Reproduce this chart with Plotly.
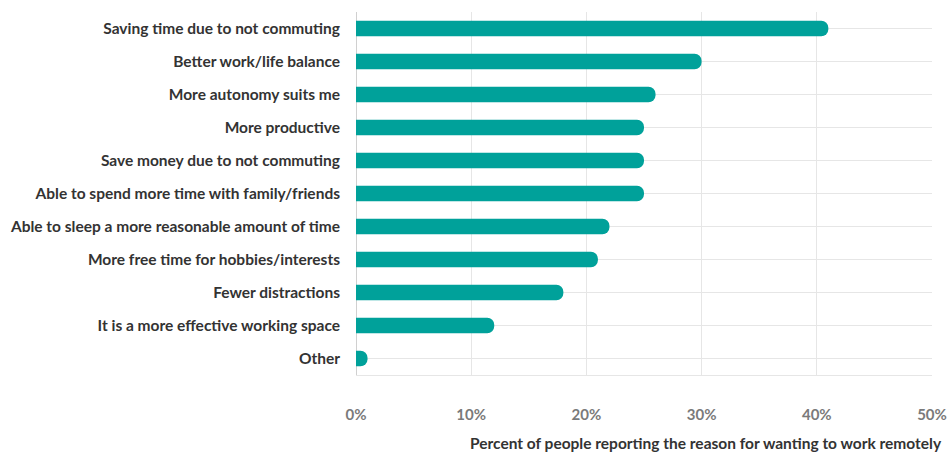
import plotly.graph_objects as go

categories = [
    "Saving time due to not commuting",
    "Better work/life balance",
    "More autonomy suits me",
    "More productive",
    "Save money due to not commuting",
    "Able to spend more time with family/friends",
    "Able to sleep a more reasonable amount of time",
    "More free time for hobbies/interests",
    "Fewer distractions",
    "It is a more effective working space",
    "Other",
]
values = [41, 30, 26, 25, 25, 25, 22, 21, 18, 12, 1]
tick_vals = [0, 10, 20, 30, 40, 50]
tick_text = ["0%", "10%", "20%", "30%", "40%", "50%"]
x_title = "Percent of people reporting the reason for wanting to work remotely"

fig = go.Figure(go.Bar(
    x=values, y=categories, orientation="h",
    marker=dict(color="#00A19A", line=dict(width=0), cornerradius=8),
    width=0.47, hoverinfo="x+y",
))

fig.update_layout(
    width=949, height=453,
    margin=dict(l=356, r=17, t=12, b=78, autoexpand=False),
    paper_bgcolor="white", plot_bgcolor="white",
    font=dict(family="Lato", color="#333333"),
    showlegend=False,
    xaxis=dict(
        range=[0, 50], tickvals=tick_vals, ticktext=tick_text,
        showgrid=True, gridcolor="#e6e6e6", gridwidth=1,
        zeroline=False, showline=True, linecolor="#e6e6e6", linewidth=1,
        tickfont=dict(family="Lato", size=15, color="#7a7a7a", weight="bold"),
        ticks="", ticklabelstandoff=26, fixedrange=True, automargin=False,
    ),
    yaxis=dict(
        categoryorder="array", categoryarray=categories[::-1],
        showgrid=True, gridcolor="#e6e6e6", gridwidth=1,
        zeroline=False, showline=False,
        tickfont=dict(family="Lato", size=15.5, color="#333333", weight="bold"),
        ticks="", ticklabelstandoff=15, fixedrange=True, automargin=False,
    ),
    shapes=[dict(type="line", xref="x", yref="paper", x0=0, x1=0, y0=0, y1=1,
                 line=dict(color="#d0d0d0", width=2), layer="below")],
    annotations=[dict(
        text=x_title, xref="paper", yref="paper", x=1.021, y=0,
        xanchor="right", yanchor="top", yshift=-57, showarrow=False,
        font=dict(family="Lato", size=15.5, color="#333333", weight="bold"),
    )],
)

fig.write_html("out.html")
